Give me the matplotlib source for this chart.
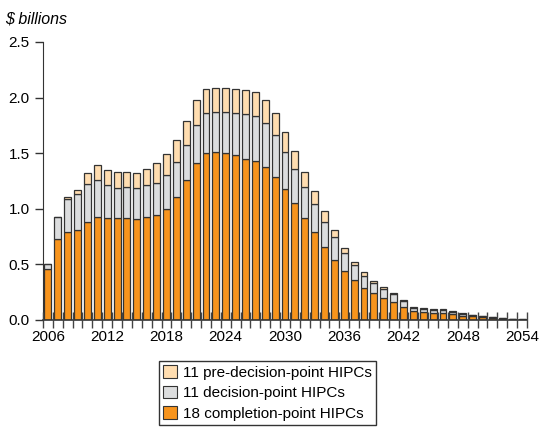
import matplotlib.pyplot as plt
import numpy as np
from matplotlib.patches import Patch

plt.rcParams['font.family'] = ['Liberation Sans', 'DejaVu Sans']

years = np.arange(2006, 2055)

completion = [0.46, 0.73, 0.79, 0.81, 0.88, 0.93, 0.92, 0.92, 0.92, 0.91,
              0.93, 0.94, 1.00, 1.11, 1.26, 1.41, 1.50, 1.51, 1.50, 1.48,
              1.45, 1.43, 1.38, 1.29, 1.18, 1.05, 0.92, 0.79, 0.66, 0.54,
              0.44, 0.36, 0.29, 0.24, 0.20, 0.16, 0.12, 0.08, 0.07, 0.065,
              0.065, 0.055, 0.04, 0.035, 0.025, 0.02, 0.012, 0.008, 0.004]
decision = [0.04, 0.20, 0.30, 0.32, 0.34, 0.33, 0.29, 0.27, 0.28, 0.28,
            0.28, 0.29, 0.30, 0.31, 0.31, 0.34, 0.36, 0.36, 0.37, 0.38,
            0.40, 0.40, 0.39, 0.37, 0.33, 0.31, 0.28, 0.25, 0.22, 0.21,
            0.16, 0.13, 0.11, 0.09, 0.08, 0.07, 0.05, 0.03, 0.025, 0.025,
            0.025, 0.02, 0.017, 0.01, 0.008, 0.008, 0.005, 0.003, 0.002]
pre_decision = [0.0, 0.0, 0.02, 0.04, 0.10, 0.13, 0.14, 0.14, 0.13, 0.13,
                0.15, 0.18, 0.19, 0.20, 0.22, 0.23, 0.22, 0.22, 0.22, 0.22,
                0.22, 0.22, 0.21, 0.20, 0.18, 0.16, 0.13, 0.12, 0.10, 0.06,
                0.05, 0.03, 0.03, 0.02, 0.02, 0.015, 0.01, 0.01, 0.01, 0.007,
                0.007, 0.008, 0.006, 0.004, 0.003, 0.002, 0.001, 0.001, 0.0]

labels = ['11 pre-decision-point HIPCs', '11 decision-point HIPCs',
          '18 completion-point HIPCs']
colors = ['#FFDDB0', '#DCDDDE', '#F7941D']

completion = np.array(completion)
decision = np.array(decision)
pre_decision = np.array(pre_decision)

fig = plt.figure(figsize=(5.42, 4.32), dpi=100)
ax = fig.add_axes([0.0793, 0.2593, 0.8930, 0.6435])

bar_kw = dict(width=0.7, edgecolor='#333333', linewidth=0.9)
ax.bar(years, completion, color=colors[2], **bar_kw)
ax.bar(years, decision, bottom=completion, color=colors[1], **bar_kw)
ax.bar(years, pre_decision, bottom=completion + decision, color=colors[0], **bar_kw)

ax.set_xlim(2005.5, 2054.5)
ax.set_ylim(0, 2.5)
ax.set_yticks(np.arange(0, 2.51, 0.5))
ax.set_yticklabels(['0.0', '0.5', '1.0', '1.5', '2.0', '2.5'])
ax.set_xticks(np.arange(2006, 2055, 6))
ax.set_xticks(np.arange(2005.5, 2055, 1), minor=True)
ax.tick_params(axis='x', which='major', length=0, labelsize=11, pad=7)
ax.tick_params(axis='x', which='minor', length=12, direction='inout',
               color='#444444', width=1)
ax.tick_params(axis='y', length=6, width=1, color='#333333', labelsize=11)
ax.set_axisbelow(False)

for s in ['top', 'right']:
    ax.spines[s].set_visible(False)
ax.spines['left'].set_color('#333333')
ax.spines['bottom'].set_color('#333333')
ax.spines['bottom'].set_linewidth(1.2)

fig.text(0.009, 0.957, '$ billions', fontsize=11.5, style='italic', va='center')

handles = [Patch(facecolor=c, edgecolor='#333333', linewidth=0.8) for c in colors]
fig.legend(handles, labels, loc='upper center', bbox_to_anchor=(0.4935, 0.164),
           fontsize=11, frameon=True, fancybox=False, edgecolor='black',
           handlelength=0.9, handleheight=0.9, handletextpad=0.4,
           labelspacing=0.4, borderpad=0.25, borderaxespad=0)

fig.savefig('out.png', dpi=100)
